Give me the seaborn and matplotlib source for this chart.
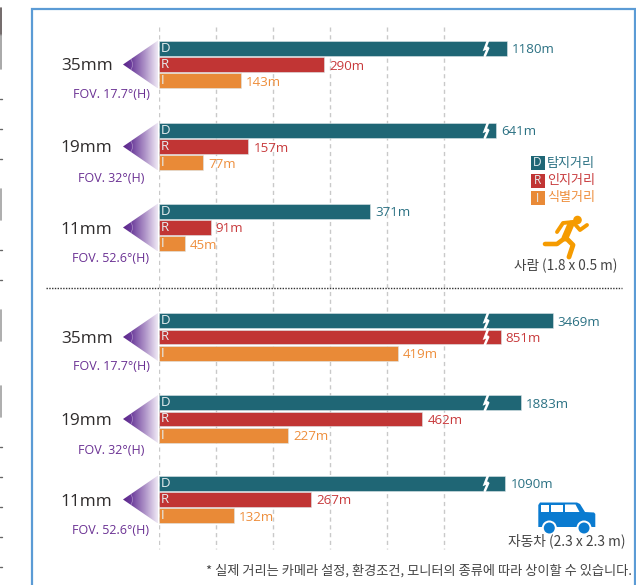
import numpy as np
import pandas as pd
import matplotlib
matplotlib.use("Agg")
import matplotlib.pyplot as plt
from matplotlib.colors import LinearSegmentedColormap
from matplotlib.patches import Polygon, Circle, Arc, Rectangle
import seaborn as sns

# ---- data ----
lenses = ["35mm", "19mm", "11mm", "35mm", "19mm", "11mm"]
fovs = ["FOV. 17.7°(H)", "FOV. 32°(H)", "FOV. 52.6°(H)",
        "FOV. 17.7°(H)", "FOV. 32°(H)", "FOV. 52.6°(H)"]
detect = [1180, 641, 371, 3469, 1883, 1090]
recognize = [290, 157, 91, 851, 462, 267]
identify = [143, 77, 45, 419, 227, 132]
series_names = ["D", "R", "I"]
legend_names = ["탐지거리", "인지거리", "식별거리"]
grid_ticks = [0, 100, 200, 300, 400, 500]
person_label = "사람 (1.8 x 0.5 m)"
car_label = "자동차 (2.3 x 2.3 m)"
note = "* 실제 거리는 카메라 설정, 환경조건, 모니터의 종류에 따라 상이할 수 있습니다."

# ---- layout / style (pixels of the 636x585 canvas) ----
W, H = 636, 585
group_mid = [64.5, 146.5, 227.5, 337, 419, 499.5]
fov_y = [94, 178, 258, 367, 450.5, 531]
row_step = 16.3
bar_h = 14.8
x0_px = 159
px_per_m = 0.57
bar_colors = {"D": "#1F6675", "R": "#C13534", "I": "#E98A37"}
text_colors = {"D": "#2B7183", "R": "#C83A3C", "I": "#EE8E3C"}
PURPLE = "#6A3093"
BREAK, JUMP, SLOPE = 570.0, 19.5, 0.035

sns.set_theme(style="white")
plt.rcParams["font.family"] = ["Open Sans", "Noto Sans CJK KR", "DejaVu Sans"]
KR = ["Noto Sans CJK KR", "DejaVu Sans"]


def fwd(x):
    x = np.asarray(x, dtype=float)
    return np.where(x <= BREAK, x, BREAK + JUMP + (x - BREAK) * SLOPE)


def inv(y):
    y = np.asarray(y, dtype=float)
    return np.where(y <= BREAK, y,
                    np.where(y <= BREAK + JUMP, BREAK, BREAK + (y - BREAK - JUMP) / SLOPE))


rows = []
for i in range(len(lenses)):
    for j, (s, vals) in enumerate(zip(series_names, (detect, recognize, identify))):
        rows.append({"series": s, "value": vals[i],
                     "pos": group_mid[i] + (j - 1) * row_step})
df = pd.DataFrame(rows)

fig = plt.figure(figsize=(W / 100, H / 100), dpi=100, facecolor="white")
ax = fig.add_axes([x0_px / W, 0, 1 - x0_px / W, 1])
ax.patch.set_alpha(0)

sns.barplot(data=df, x="value", y="pos", hue="series", hue_order=series_names,
            palette=bar_colors, orient="h", native_scale=True, dodge=False,
            width=bar_h / row_step, errorbar=None, legend=False, ax=ax,
            edgecolor="#DDE6E8", linewidth=0.4, zorder=3, saturation=1)
ax.set_xscale("function", functions=(fwd, inv))
ax.set_xlim(0, BREAK + ((W - x0_px) / px_per_m - BREAK - JUMP) / SLOPE)
ax.set_ylim(H, 0)
ax.set_xlabel("")
ax.set_ylabel("")
ax.set_xticks([])
ax.set_yticks([])
ax.minorticks_off()
for sp in ax.spines.values():
    sp.set_visible(False)

ax.vlines(grid_ticks, 27, 549, colors="#C9C9C9", linewidth=1.0,
          linestyles=(0, (3, 2.6)), zorder=1)

for _, r in df.iterrows():
    ax.annotate(f"{r['value']}m", xy=(r["value"], r["pos"]), xytext=(3.6, 0),
                textcoords="offset points", ha="left", va="center_baseline",
                fontsize=9.6, color=text_colors[r["series"]], zorder=4)

# ---- overlay in canvas pixels ----
ov = fig.add_axes([0, 0, 1, 1], zorder=5)
ov.patch.set_alpha(0)
ov.set_axis_off()

frame = "#5B9BD5"
ov.plot([32, 32, 635, 635], [H + 2, 9, 9, H + 2], color=frame, lw=1.6,
        solid_joinstyle="miter")
ov.plot([46, 622], [288, 288], color="#333333", lw=1.0, linestyle=(0, (1, 1)))

# remnants on the left edge of the crop
for y0, y1, c in [(8, 35, "#5A5050"), (35, 69, "#9A9A9A"), (189, 220, "#A0A0A0"),
                  (310, 341, "#A0A0A0"), (386, 417, "#A0A0A0")]:
    ov.plot([0.5, 0.5], [y0, y1], color=c, lw=1.2)
for y in [99, 129, 159, 250, 280, 447, 477, 507, 537, 567]:
    ov.plot([0, 1.5], [y, y], color="#666666", lw=1.0)

cmap = LinearSegmentedColormap.from_list(
    "cone", [(0, "#5C258A"), (0.22, "#6A3A9A"), (0.6, "#A98CC4"), (1, "#EFE9F5")])
grad = np.linspace(0, 1, 128).reshape(1, -1)
for i, cy in enumerate(group_mid):
    im = ov.imshow(grad, extent=(123, 158, cy + 24, cy - 24), cmap=cmap, aspect="auto",
                   interpolation="bilinear", zorder=2)
    tri = Polygon([(123, cy), (158, cy - 24), (158, cy + 24)], closed=True,
                  transform=ov.transData, facecolor="none", edgecolor="none")
    ov.add_patch(tri)
    im.set_clip_path(tri)
    ov.add_patch(Arc((123, cy), 19, 19, theta1=-42, theta2=42, color="white",
                     lw=0.5, alpha=0.4, zorder=3))
    ov.text(112.5, cy + 2, lenses[i], ha="right", va="center", fontsize=12.4,
            color="#2F2C2C")
    ov.text(111, fov_y[i], fovs[i], ha="center", va="center", fontsize=9.0,
            color=PURPLE)

# series letters and axis-break marks
for _, r in df.iterrows():
    cy = r["pos"]
    ov.text(161, cy, r["series"], ha="left", va="center", fontsize=9.6,
            color="#E6EEF0")
    if r["value"] > BREAK:
        top, bot = cy - bar_h / 2 - 0.3, cy + bar_h / 2 + 0.3
        ov.plot([488, 484.8, 488.4, 484.8], [top, cy + 0.8, cy - 0.6, bot],
                color="white", lw=1.8, solid_joinstyle="miter", zorder=4)

# legend
for name, s, cy in zip(legend_names, series_names, [163, 180.5, 198]):
    ov.add_patch(Rectangle((530.5, cy - 7), 14, 14, facecolor=bar_colors[s],
                           edgecolor="none"))
    ov.text(537.5, cy, s, ha="center", va="center", fontsize=8.6, color="#E6EEF0")
    ov.text(547, cy, name, ha="left", va="center", fontsize=9.4,
            color=text_colors[s], family=KR)

# runner icon
ORANGE = "#F59B00"
ov.add_patch(Circle((577.5, 220), 4.3, facecolor=ORANGE, edgecolor="none"))
ik = dict(color=ORANGE, solid_capstyle="round", solid_joinstyle="round")
ov.plot([571, 565], [224, 238], lw=5.0, **ik)
ov.plot([573, 563, 557], [222, 223, 232], lw=2.8, **ik)
ov.plot([573, 580, 587], [222, 230, 225], lw=2.8, **ik)
ov.plot([565, 557, 545], [238, 244, 244], lw=3.3, **ik)
ov.plot([565, 573, 569], [237, 245, 257], lw=3.5, **ik)
ov.text(566, 265.5, person_label, ha="center", va="center", fontsize=9.8,
        color="#444444", family=KR)

# car icon
BLUE = "#0A7BD0"
ov.add_patch(Polygon([(538.3, 505), (540, 502.5), (577, 502.5), (580, 504),
                      (585, 512), (594, 512.5), (595.3, 514), (595.3, 527), (538.3, 527)],
                     closed=True, facecolor=BLUE, edgecolor="none"))
for pts in [[(540.5, 504.5), (548.5, 504.5), (548.5, 512), (540.5, 512)],
            [(550.5, 504.5), (563, 504.5), (563, 512), (550.5, 512)],
            [(565, 504.5), (575.5, 504.5), (579.5, 512), (565, 512)]]:
    ov.add_patch(Polygon(pts, closed=True, facecolor="white", edgecolor="none"))
for cx in (549.3, 584):
    ov.add_patch(Circle((cx, 528), 7.5, facecolor="white", edgecolor="none"))
    ov.add_patch(Circle((cx, 528), 5.5, facecolor=BLUE, edgecolor="none"))
ov.text(566.5, 541, car_label, ha="center", va="center", fontsize=9.9,
        color="#444444", family=KR)

ov.text(632, 571, note, ha="right", va="center", fontsize=9.5, color="#444444",
        family=KR)

ov.set_xlim(0, W)
ov.set_ylim(H, 0)

fig.savefig("out.png", dpi=100)
